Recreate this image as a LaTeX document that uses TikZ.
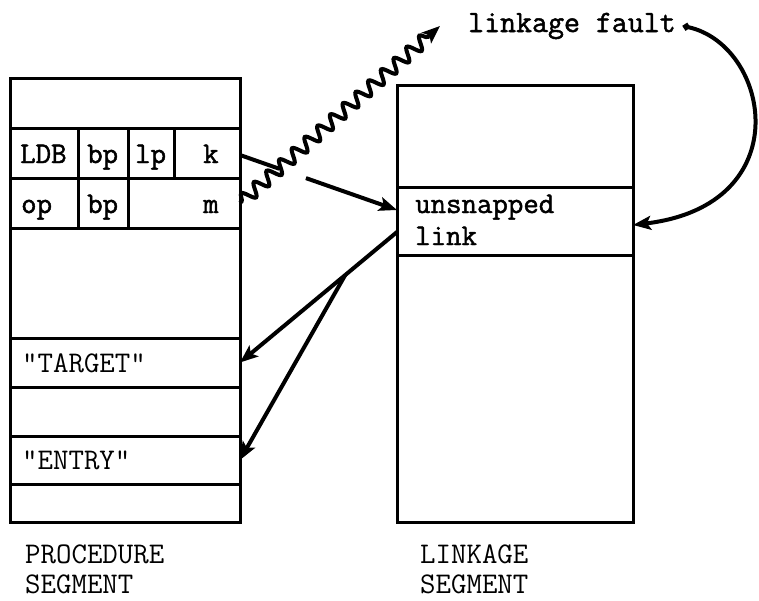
\documentclass[tikz,border=0pt]{standalone}
\usepackage{fontspec}
\newfontfamily\typer{Latin Modern Mono}[AutoFakeBold=1.6]
\usetikzlibrary{arrows.meta,decorations.pathmorphing,calc}

\begin{document}
\begin{tikzpicture}[x=1pt,y=-1pt,
  cell/.style={draw, line width=3pt, inner sep=0pt, outer sep=0pt, anchor=north west},
  lbl/.style={font=\typer\bfseries\fontsize{30}{36}\selectfont, inner sep=0pt, anchor=base west},
  caps/.style={font=\ttfamily\fontsize{30}{36}\selectfont, inner sep=0pt, anchor=base west},
  tip/.style={-{Stealth[length=18pt,width=14pt,inset=4pt]}},
  arr/.style={line width=4pt, tip},
  wave/.style={line width=4pt, tip, decorate,
    decoration={snake, amplitude=6.5pt, segment length=17pt, pre length=2pt, post length=14pt}}
]
\useasboundingbox (0,0) rectangle (759,600);

% procedure segment
\node[cell, minimum width=230pt, minimum height=50pt]  (p0)     at (10,78)  {};
\node[cell, minimum width=68pt,  minimum height=50pt]  (cldb)   at (10,128) {};
\node[cell, minimum width=50pt,  minimum height=50pt]  (cbpa)   at (78,128) {};
\node[cell, minimum width=46pt,  minimum height=50pt]  (clp)    at (128,128) {};
\node[cell, minimum width=66pt,  minimum height=50pt]  (k)      at (174,128) {};
\node[cell, minimum width=68pt,  minimum height=50pt]  (cop)    at (10,178) {};
\node[cell, minimum width=50pt,  minimum height=50pt]  (cbpb)   at (78,178) {};
\node[cell, minimum width=112pt, minimum height=50pt]  (m)      at (128,178) {};
\node[cell, minimum width=230pt, minimum height=110pt] (p3)     at (10,228) {};
\node[cell, minimum width=230pt, minimum height=49pt]  (target) at (10,338) {};
\node[cell, minimum width=230pt, minimum height=49pt]  (p5)     at (10,387) {};
\node[cell, minimum width=230pt, minimum height=48pt]  (entry)  at (10,436) {};
\node[cell, minimum width=230pt, minimum height=38pt]  (p7)     at (10,484) {};

\node[lbl] (tldb) at (20,163)  {LDB};
\node[lbl] (tbpa) at (87,163)  {bp};
\node[lbl] (tlp)  at (135,163) {lp};
\node[lbl] (tk)   at (203,163) {k};
\node[lbl] (top)  at (21,213)  {op};
\node[lbl] (tbpb) at (87,213)  {bp};
\node[lbl] (tm)   at (203,213) {m};
\node[caps] (ttarget) at (22,372) {"TARGET"};
\node[caps] (tentry)  at (22,469) {"ENTRY"};
\node[caps] (tproc)   at (25,563) {PROCEDURE};
\node[caps] (tpseg)   at (25,593) {SEGMENT};

% linkage segment
\node[cell, minimum width=236pt, minimum height=102pt] (l0)        at (397,85)  {};
\node[cell, minimum width=236pt, minimum height=68pt]  (unsnapped) at (397,187) {};
\node[cell, minimum width=236pt, minimum height=267pt] (l2)        at (397,255) {};

\node[lbl] (tuns)  at (415,213) {unsnapped};
\node[lbl] (tlink) at (415,245) {link};
\node[caps] (tlkg)  at (420,563) {LINKAGE};
\node[caps] (tlseg) at (420,593) {SEGMENT};

\node[lbl, font=\typer\bfseries\fontsize{31}{36}\selectfont] (fault) at (468,32) {linkage fault};

% instruction operand to the link, broken where the fault path crosses it
\coordinate (kout)  at ([yshift=-2pt]k.east);
\coordinate (linkin) at ([yshift=11pt]unsnapped.west);
\draw[line width=4pt] (kout) -- ($(kout)!0.25!(linkin)$);
\draw[arr] ($(kout)!0.42!(linkin)$) -- (linkin);

% fault path
\draw[wave] (m.east) -- ([xshift=-28pt]fault.west);

% fault handler snaps the link
\draw[line width=4pt, {Circle[length=7pt]}-{Stealth[length=18pt,width=14pt,inset=4pt]}]
  ([xshift=7pt]fault.east) .. controls (770,45) and (800,205) .. ([yshift=-4pt]unsnapped.east);

% link resolved through the symbol names
\coordinate (linkout) at ([yshift=-11pt]unsnapped.west);
\draw[arr] (linkout) -- coordinate[pos=0.33] (fork) (target.east);
\draw[arr] (fork) -- (entry.east);

\end{tikzpicture}
\end{document}
